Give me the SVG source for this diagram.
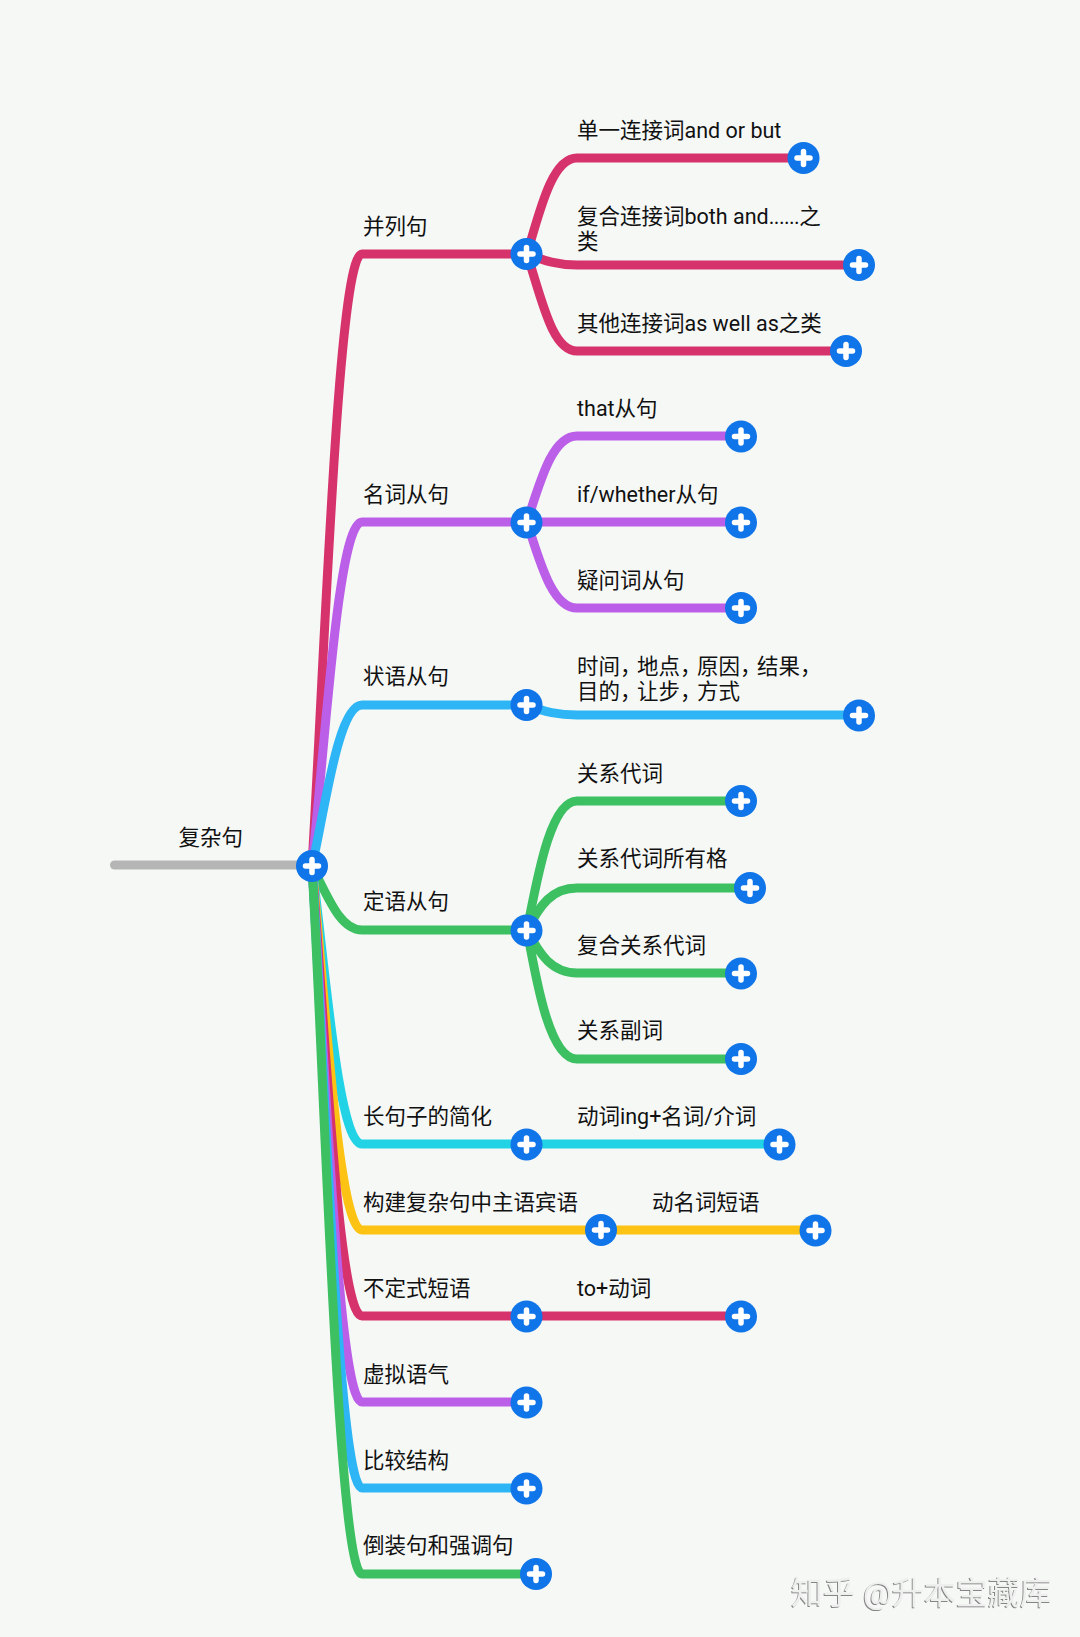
<svg xmlns="http://www.w3.org/2000/svg" width="1080" height="1637" viewBox="0 0 1080 1637">
<style>
text{font-family:Roboto,"Noto Sans CJK SC",sans-serif;font-size:21.5px;fill:#111}
.c{fill:none;stroke-width:9;stroke-linecap:round}
.p{stroke:#d6336c}.v{stroke:#bb5ee8}.b{stroke:#2db5f5}.g{stroke:#3cc061}.a{stroke:#22d3e6}.y{stroke:#fcc214}.k{stroke:#b5b5b5}
.wm{font-size:32px;fill:#eef0ee;filter:url(#em)}
</style>
<defs>
<filter id="em" x="-5%" y="-20%" width="110%" height="140%"><feDropShadow dx="-1" dy="1" stdDeviation="0.5" flood-color="#858585"/></filter>
<g id="btn"><circle r="16" fill="#0f75e8"/><path d="M-6.500 0H6.500M0 -6.500V6.500" stroke="#fff" stroke-width="5.500" stroke-linecap="round" fill="none"/></g>
</defs>
<rect width="1080" height="1637" fill="#f6f8f6"/>
<g id="connectors">
<path class="c k" d="M114.500 865H312"/>
<path class="c p" d="M312 866C325 650 338 254 362 254H527"/>
<path class="c p" d="M527 254C540 210 552 158 577 158H803"/>
<path class="c p" d="M527 254C545 261 558 265 577 265H859"/>
<path class="c p" d="M527 254C542 300 552 351 577 351H846"/>
<path class="c v" d="M312 866C325 746 338 522 362 522H527"/>
<path class="c v" d="M527 522C540 482 552 436 577 436H741"/>
<path class="c v" d="M527 522H741"/>
<path class="c v" d="M527 522C540 562 552 608 577 608H741"/>
<path class="c b" d="M312 866C325 810 338 705 362 705H527"/>
<path class="c b" d="M527 705C545 712 558 715 577 715H859"/>
<path class="c g" d="M312 866C328 897 340 930 362 930H527"/>
<path class="c g" d="M527 930C537 880 550 801 577 801H741"/>
<path class="c g" d="M527 930C540 905 552 888 577 888H750"/>
<path class="c g" d="M527 930C540 955 552 973 577 973H741"/>
<path class="c g" d="M527 930C537 985 550 1059 577 1059H741"/>
<path class="c a" d="M312 866C325 963 338 1144 362 1144H780"/>
<path class="c y" d="M312 866C325 993 338 1230 362 1230H816"/>
<path class="c p" d="M312 866C325 1024 338 1316 362 1316H741"/>
<path class="c v" d="M312 866C325 1054 338 1402 362 1402H527"/>
<path class="c b" d="M312 866C325 1070 338 1488 362 1488H527"/>
<path class="c g" d="M312 866C325 1090 338 1574 362 1574H536"/>
</g>
<g id="n0"><use href="#btn" x="312" y="866"/><text x="178.500" y="845">复杂句</text></g>
<g id="n1"><use href="#btn" x="526.500" y="254"/><text x="363" y="233.500">并列句</text></g>
<g id="n1a"><use href="#btn" x="803.500" y="158"/><text x="577" y="137.500">单一连接词and or but</text></g>
<g id="n1b"><use href="#btn" x="859" y="265"/><text x="577" y="224">复合连接词both and<tspan letter-spacing="-0.600">......</tspan>之</text><text x="577" y="249">类</text></g>
<g id="n1c"><use href="#btn" x="846" y="351"/><text x="577" y="330.500">其他连接词as well as之类</text></g>
<g id="n2"><use href="#btn" x="526.500" y="522.500"/><text x="363" y="502">名词从句</text></g>
<g id="n2a"><use href="#btn" x="741" y="436.500"/><text x="577" y="416">that从句</text></g>
<g id="n2b"><use href="#btn" x="741" y="522.500"/><text x="577" y="502">if/whether从句</text></g>
<g id="n2c"><use href="#btn" x="741" y="608"/><text x="577" y="587.500">疑问词从句</text></g>
<g id="n3"><use href="#btn" x="526.500" y="705"/><text x="363" y="684">状语从句</text></g>
<g id="n3a"><use href="#btn" x="859" y="715.500"/><text x="577" y="674">时间，<tspan dx="-4.500">地点，</tspan><tspan dx="-4.500">原因，</tspan><tspan dx="-4.500">结果，</tspan></text><text x="577" y="699">目的，<tspan dx="-4.500">让步，</tspan><tspan dx="-4.500">方式</tspan></text></g>
<g id="n4"><use href="#btn" x="526.500" y="930.500"/><text x="363" y="909">定语从句</text></g>
<g id="n4a"><use href="#btn" x="741" y="801"/><text x="577" y="780.500">关系代词</text></g>
<g id="n4b"><use href="#btn" x="750" y="888"/><text x="577" y="866">关系代词所有格</text></g>
<g id="n4c"><use href="#btn" x="741" y="973.500"/><text x="577" y="953">复合关系代词</text></g>
<g id="n4d"><use href="#btn" x="741" y="1059"/><text x="577" y="1038">关系副词</text></g>
<g id="n5"><use href="#btn" x="526.500" y="1144.500"/><text x="363" y="1124">长句子的简化</text></g>
<g id="n5a"><use href="#btn" x="779.500" y="1144.500"/><text x="577" y="1124">动词ing+名词/介词</text></g>
<g id="n6"><use href="#btn" x="601" y="1230"/><text x="363" y="1210">构建复杂句中主语宾语</text></g>
<g id="n6a"><use href="#btn" x="815.500" y="1230.500"/><text x="652" y="1210">动名词短语</text></g>
<g id="n7"><use href="#btn" x="526.500" y="1316.500"/><text x="363" y="1295.500">不定式短语</text></g>
<g id="n7a"><use href="#btn" x="741" y="1316.500"/><text x="577" y="1295.500">to+动词</text></g>
<g id="n8"><use href="#btn" x="526.500" y="1402.500"/><text x="363" y="1382">虚拟语气</text></g>
<g id="n9"><use href="#btn" x="526.500" y="1488.500"/><text x="363" y="1467.500">比较结构</text></g>
<g id="n10"><use href="#btn" x="536" y="1574"/><text x="363" y="1553">倒装句和强调句</text></g>
<text class="wm" x="791" y="1604">知乎 @升本宝藏库</text>
</svg>
